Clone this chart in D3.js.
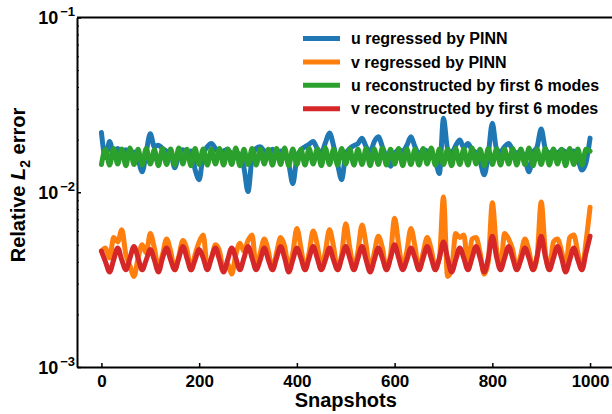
<!DOCTYPE html>
<html>
<head>
<meta charset="utf-8">
<script src="https://cdn.jsdelivr.net/npm/d3@7"></script>
<style>
  body { margin: 0; background: #fff; }
  svg { display: block; font-family: "Liberation Sans", Arial, sans-serif; font-weight: bold; }
</style>
</head>
<body>
<div class="error-plot"></div>
<script>
// snapshot positions, one every 1000/120 snapshots
const snapshots = d3.range(121).map(k => k * 1000 / 120);

const seriesNames = [
  "u regressed by PINN",
  "v regressed by PINN",
  "u reconstructed by first 6 modes",
  "v reconstructed by first 6 modes"
];
const seriesColors = ["#1f77b4", "#ff7f0e", "#2ca02c", "#d62728"];

const uPinn = [
  0.0220, 0.0158, 0.0195, 0.0165, 0.0178, 0.0168, 0.0175, 0.0165, 0.0170, 0.0155,
  0.0131, 0.0170, 0.0216, 0.0182, 0.0186, 0.0178, 0.0172, 0.0168, 0.0138, 0.0165,
  0.0175, 0.0170, 0.0172, 0.0135, 0.0118, 0.0165, 0.0182, 0.0190, 0.0178, 0.0168,
  0.0172, 0.0176, 0.0165, 0.0170, 0.0162, 0.0138, 0.0101, 0.0158, 0.0178, 0.0182,
  0.0172, 0.0168, 0.0176, 0.0165, 0.0172, 0.0168, 0.0145, 0.0112, 0.0158, 0.0175,
  0.0182, 0.0188, 0.0195, 0.0178, 0.0168, 0.0192, 0.0218, 0.0185, 0.0145, 0.0118,
  0.0165, 0.0178, 0.0185, 0.0190, 0.0204, 0.0182, 0.0170, 0.0195, 0.0208, 0.0182,
  0.0158, 0.0141, 0.0165, 0.0175, 0.0172, 0.0185, 0.0208, 0.0182, 0.0165, 0.0175,
  0.0172, 0.0168, 0.0152, 0.0128, 0.0265, 0.0178, 0.0168, 0.0185, 0.0199, 0.0180,
  0.0190, 0.0175, 0.0168, 0.0150, 0.0126, 0.0165, 0.0248, 0.0178, 0.0170, 0.0182,
  0.0190, 0.0175, 0.0168, 0.0172, 0.0155, 0.0131, 0.0168, 0.0182, 0.0230, 0.0178,
  0.0168, 0.0172, 0.0168, 0.0175, 0.0170, 0.0166, 0.0172, 0.0155, 0.0134, 0.0148,
  0.0204
];

const vPinn = [
  0.0046, 0.0048, 0.0042, 0.0055, 0.0052, 0.0061, 0.0044, 0.0038, 0.0033, 0.0042,
  0.0050, 0.0045, 0.0058, 0.0048, 0.0037, 0.0044, 0.0054, 0.0046, 0.0036, 0.0043,
  0.0053, 0.0047, 0.0036, 0.0044, 0.0052, 0.0057, 0.0038, 0.0042, 0.0050, 0.0046,
  0.0036, 0.0039, 0.0034, 0.0044, 0.0051, 0.0046, 0.0053, 0.0057, 0.0037, 0.0045,
  0.0054, 0.0046, 0.0036, 0.0045, 0.0055, 0.0049, 0.0037, 0.0045, 0.0062, 0.0048,
  0.0036, 0.0045, 0.0060, 0.0050, 0.0037, 0.0046, 0.0061, 0.0049, 0.0036, 0.0044,
  0.0066, 0.0048, 0.0037, 0.0046, 0.0065, 0.0050, 0.0036, 0.0045, 0.0056, 0.0048,
  0.0036, 0.0044, 0.0071, 0.0050, 0.0037, 0.0046, 0.0062, 0.0049, 0.0036, 0.0045,
  0.0055, 0.0047, 0.0037, 0.0042, 0.0094, 0.0033, 0.0036, 0.0058, 0.0055, 0.0057,
  0.0038, 0.0054, 0.0055, 0.0045, 0.0034, 0.0040, 0.0087, 0.0048, 0.0037, 0.0058,
  0.0054, 0.0047, 0.0036, 0.0044, 0.0054, 0.0046, 0.0036, 0.0043, 0.0088, 0.0046,
  0.0036, 0.0052, 0.0054, 0.0046, 0.0037, 0.0055, 0.0057, 0.0045, 0.0036, 0.0052,
  0.0082
];

const uModes = [
  0.0144, 0.0176, 0.0143, 0.0178, 0.0145, 0.0177, 0.0142, 0.0179, 0.0144, 0.0176,
  0.0143, 0.0178, 0.0145, 0.0175, 0.0142, 0.0178, 0.0144, 0.0177, 0.0143, 0.0179,
  0.0145, 0.0176, 0.0142, 0.0178, 0.0144, 0.0177, 0.0143, 0.0176, 0.0145, 0.0178,
  0.0143, 0.0177, 0.0144, 0.0179, 0.0142, 0.0176, 0.0144, 0.0178, 0.0143, 0.0177,
  0.0145, 0.0176, 0.0143, 0.0178, 0.0144, 0.0179, 0.0142, 0.0177, 0.0144, 0.0176,
  0.0143, 0.0178, 0.0145, 0.0177, 0.0142, 0.0179, 0.0144, 0.0176, 0.0143, 0.0178,
  0.0145, 0.0177, 0.0143, 0.0176, 0.0144, 0.0178, 0.0142, 0.0177, 0.0144, 0.0179,
  0.0143, 0.0176, 0.0145, 0.0178, 0.0142, 0.0177, 0.0144, 0.0176, 0.0143, 0.0178,
  0.0145, 0.0179, 0.0143, 0.0177, 0.0144, 0.0176, 0.0142, 0.0178, 0.0144, 0.0177,
  0.0143, 0.0179, 0.0145, 0.0176, 0.0142, 0.0178, 0.0144, 0.0177, 0.0143, 0.0176,
  0.0145, 0.0178, 0.0143, 0.0177, 0.0144, 0.0179, 0.0142, 0.0176, 0.0144, 0.0178,
  0.0143, 0.0177, 0.0145, 0.0176, 0.0142, 0.0178, 0.0144, 0.0177, 0.0143, 0.0176,
  0.0172
];

const vModes = [
  0.0046, 0.0040, 0.0035, 0.0041, 0.0048, 0.0041, 0.0036, 0.0042, 0.0049, 0.0042,
  0.0036, 0.0041, 0.0047, 0.0041, 0.0035, 0.0042, 0.0048, 0.0041, 0.0036, 0.0042,
  0.0049, 0.0042, 0.0036, 0.0041, 0.0047, 0.0042, 0.0036, 0.0042, 0.0048, 0.0041,
  0.0035, 0.0041, 0.0048, 0.0042, 0.0036, 0.0042, 0.0049, 0.0042, 0.0036, 0.0041,
  0.0048, 0.0041, 0.0036, 0.0042, 0.0049, 0.0042, 0.0035, 0.0041, 0.0048, 0.0042,
  0.0036, 0.0042, 0.0049, 0.0042, 0.0036, 0.0041, 0.0048, 0.0041, 0.0036, 0.0042,
  0.0049, 0.0042, 0.0036, 0.0042, 0.0049, 0.0041, 0.0035, 0.0041, 0.0048, 0.0042,
  0.0036, 0.0042, 0.0050, 0.0042, 0.0036, 0.0041, 0.0048, 0.0042, 0.0036, 0.0042,
  0.0049, 0.0042, 0.0036, 0.0042, 0.0052, 0.0042, 0.0035, 0.0041, 0.0048, 0.0042,
  0.0036, 0.0042, 0.0049, 0.0042, 0.0035, 0.0042, 0.0056, 0.0043, 0.0036, 0.0042,
  0.0049, 0.0042, 0.0036, 0.0041, 0.0048, 0.0042, 0.0036, 0.0043, 0.0056, 0.0043,
  0.0036, 0.0042, 0.0049, 0.0042, 0.0035, 0.0041, 0.0048, 0.0041, 0.0036, 0.0045,
  0.0056
];

const xTicks = [0, 200, 400, 600, 800, 1000];
const yTicks = [1e-3, 1e-2, 1e-1];
const yTickExp = ["\u22123", "\u22122", "\u22121"];

function renderChart() {
  const width = 612;
  const height = 414;
  const left = 77, top = 17.5, bottom = 367, right = 614.5;

  const svg = d3.select('.error-plot')
    .append('svg')
    .attr('width', width)
    .attr('height', height);

  const x = d3.scaleLinear().domain([-50, 1050]).range([left, right]);
  const y = d3.scaleLog().domain([1e-3, 1e-1]).range([bottom, top]);

  const allSeries = [uPinn, vPinn, uModes, vModes];

  const line = d3.line()
    .x((d, i) => x(snapshots[i]))
    .y(d => y(d))
    .curve(d3.curveMonotoneX);

  svg.append("g")
    .selectAll("path")
    .data(allSeries)
    .enter()
    .append("path")
    .attr("d", d => line(d))
    .attr("fill", "none")
    .attr("stroke", (d, i) => seriesColors[i])
    .attr("stroke-width", 5)
    .attr("stroke-linejoin", "round")
    .attr("stroke-linecap", "round");

  // x axis
  const xAxis = svg.append("g")
    .attr("transform", `translate(0,${bottom})`)
    .call(d3.axisBottom(x).tickValues(xTicks).tickFormat(d3.format("d"))
      .tickSize(-4).tickSizeOuter(0).tickPadding(8));
  xAxis.select(".domain").attr("stroke-width", 2);
  xAxis.selectAll(".tick line").attr("stroke-width", 1.5);
  xAxis.selectAll("text")
    .attr("font-size", "17px")
    .attr("font-weight", "bold")
    .attr("font-family", '"Liberation Sans", Arial, sans-serif')
    .attr("fill", "#000");

  // y axis, minor ticks first
  const minor = [];
  [1e-3, 1e-2].forEach(dec => {
    for (let m = 2; m <= 9; m++) minor.push(dec * m);
  });
  svg.append("g")
    .attr("transform", `translate(${left},0)`)
    .call(d3.axisLeft(y).tickValues(minor).tickSize(-2).tickSizeOuter(0).tickFormat(""))
    .call(g => g.select(".domain").remove())
    .selectAll(".tick line").attr("stroke-width", 1);

  const yAxis = svg.append("g")
    .attr("transform", `translate(${left},0)`)
    .call(d3.axisLeft(y).tickValues(yTicks).tickSize(-4).tickSizeOuter(0).tickFormat(""));
  yAxis.select(".domain").attr("stroke-width", 2);
  yAxis.selectAll(".tick line").attr("stroke-width", 1.5);

  const yLabels = svg.append("g")
    .selectAll("text")
    .data(yTicks)
    .enter()
    .append("text")
    .attr("x", 75)
    .attr("y", d => y(d) + 6.5)
    .attr("text-anchor", "end")
    .attr("fill", "#000");
  yLabels.append("tspan")
    .attr("font-size", "18px")
    .text("10");
  yLabels.append("tspan")
    .attr("font-size", "13px")
    .attr("dx", 2)
    .attr("dy", -8)
    .text((d, i) => yTickExp[i]);

  // top spine
  svg.append("line")
    .attr("x1", left).attr("x2", right)
    .attr("y1", top).attr("y2", top)
    .attr("stroke", "#000")
    .attr("stroke-width", 2);

  // axis titles
  svg.append("text")
    .attr("x", x(500))
    .attr("y", 407)
    .attr("text-anchor", "middle")
    .attr("font-size", "20px")
    .attr("fill", "#000")
    .text("Snapshots");

  const yTitle = svg.append("text")
    .attr("transform", "translate(25,185) rotate(-90)")
    .attr("text-anchor", "middle")
    .attr("font-size", "20px")
    .attr("fill", "#000");
  yTitle.append("tspan").text("Relative ");
  yTitle.append("tspan").attr("font-style", "italic").text("L");
  yTitle.append("tspan").attr("font-size", "14px").attr("dy", 5).text("2");
  yTitle.append("tspan").attr("dy", -5).text(" error");

  // legend
  const legend = svg.append("g")
    .selectAll("g")
    .data(seriesNames)
    .enter()
    .append("g")
    .attr("transform", (d, i) => `translate(303,${38.5 + i * 23.4})`);
  legend.append("line")
    .attr("x1", 0).attr("x2", 37)
    .attr("stroke", (d, i) => seriesColors[i])
    .attr("stroke-width", 5);
  legend.append("text")
    .attr("x", 48)
    .attr("dy", "0.35em")
    .attr("font-size", "16px")
    .attr("fill", "#000")
    .text(d => d);
}

renderChart();
</script>
</body>
</html>
